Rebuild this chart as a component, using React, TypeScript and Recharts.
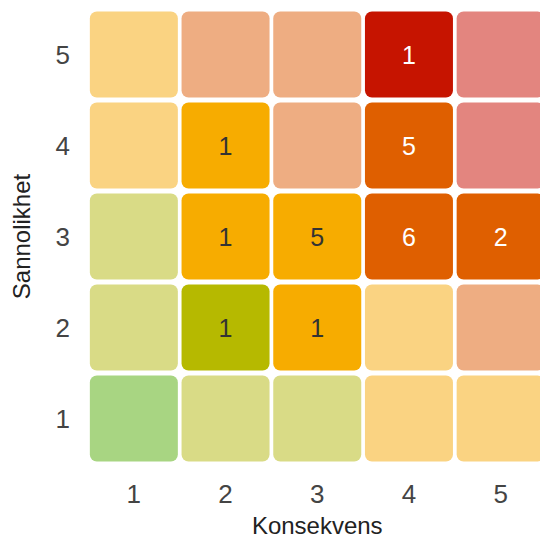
import { Label, Scatter, ScatterChart, XAxis, YAxis } from "recharts";

// consequence (x) and likelihood (y) levels of the risk matrix
const konsekvens = [1, 2, 3, 4, 5];
const sannolikhet = [5, 4, 3, 2, 1];

// number of risks per cell, rows top to bottom (likelihood 5 -> 1)
const counts5 = [0, 0, 0, 1, 0];
const counts4 = [0, 1, 0, 5, 0];
const counts3 = [0, 1, 5, 6, 2];
const counts2 = [0, 1, 1, 0, 0];
const counts1 = [0, 0, 0, 0, 0];

// cell colours, same order
const colors5 = ["#FAD382", "#EEAD82", "#EEAD82", "#C61400", "#E3857F"];
const colors4 = ["#FAD382", "#F7AC00", "#EEAD82", "#DF5F00", "#E3857F"];
const colors3 = ["#D9DB86", "#F7AC00", "#F7AC00", "#DF5F00", "#DF5F00"];
const colors2 = ["#D9DB86", "#B6B900", "#F7AC00", "#FAD382", "#EEAD82"];
const colors1 = ["#A8D582", "#D9DB86", "#D9DB86", "#FAD382", "#FAD382"];

const counts = [counts5, counts4, counts3, counts2, counts1];
const colors = [colors5, colors4, colors3, colors2, colors1];
const darkCells = ["#C61400", "#DF5F00"];

const cells = sannolikhet.flatMap((y, row) =>
  konsekvens.map((x, col) => ({
    x,
    y,
    count: counts[row][col],
    fill: colors[row][col],
  }))
);

const FONT = "Arial, 'Liberation Sans', sans-serif";
const CELL_W = 88;
const CELL_H = 86;

function CellShape(props: any) {
  const { cx, cy, payload } = props;
  const textColor = darkCells.includes(payload.fill) ? "#ffffff" : "#333333";
  return (
    <g>
      <rect
        x={cx - CELL_W / 2}
        y={cy - CELL_H / 2}
        width={CELL_W}
        height={CELL_H}
        rx={7}
        ry={7}
        fill={payload.fill}
      />
      {payload.count > 0 && (
        <text
          x={cx}
          y={cy}
          textAnchor="middle"
          dominantBaseline="central"
          fontFamily={FONT}
          fontSize={25}
          fill={textColor}
        >
          {payload.count}
        </text>
      )}
    </g>
  );
}

function YTitle(props: any) {
  const { x, y, height } = props.viewBox;
  const cx = x + 13;
  const cy = y + height / 2;
  return (
    <text
      x={cx}
      y={cy}
      transform={`rotate(-90 ${cx} ${cy})`}
      textAnchor="middle"
      dominantBaseline="central"
      fontFamily={FONT}
      fontSize={24}
      fill="#222222"
    >
      Sannolikhet
    </text>
  );
}

export default function App() {
  // the matrix runs off the right edge, so pin the chart to the viewport
  return (
    <div
      style={{
        position: "absolute",
        left: 0,
        top: 0,
        width: 540,
        height: 540,
        overflow: "hidden",
      }}
    >
      <ScatterChart
        width={550}
        height={540}
        margin={{ top: 9, right: 3.5, left: 8, bottom: 0 }}
      >
        <XAxis
          type="number"
          dataKey="x"
          domain={[0.5, 5.5]}
          ticks={konsekvens}
          axisLine={false}
          tickLine={false}
          tickSize={0}
          tickMargin={21}
          height={76}
          tick={{ fill: "#444444", fontSize: 26, fontFamily: FONT }}
        >
          <Label
            value="Konsekvens"
            position="insideBottom"
            offset={6}
            fill="#222222"
            fontSize={24}
            fontFamily={FONT}
          />
        </XAxis>
        <YAxis
          type="number"
          dataKey="y"
          domain={[0.5, 5.5]}
          ticks={sannolikhet}
          axisLine={false}
          tickLine={false}
          tickSize={0}
          tickMargin={18}
          width={80}
          tick={{ fill: "#444444", fontSize: 26, fontFamily: FONT }}
        >
          <Label content={<YTitle />} />
        </YAxis>
        <Scatter data={cells} shape={<CellShape />} isAnimationActive={false} />
      </ScatterChart>
    </div>
  );
}
